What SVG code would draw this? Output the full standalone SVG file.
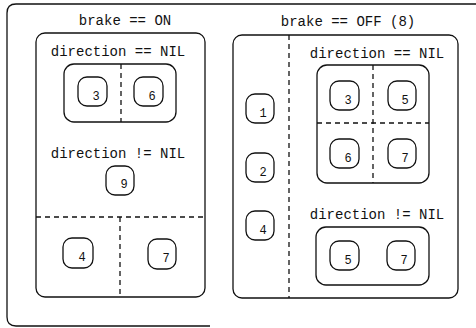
<svg xmlns="http://www.w3.org/2000/svg" width="476" height="328" viewBox="0 0 476 328">
<style>
.box{fill:none;stroke:#111;stroke-width:1.3}
.dash{fill:none;stroke:#111;stroke-width:1.3;stroke-dasharray:5,4}
.t{font-family:"Liberation Mono","DejaVu Sans Mono",monospace;font-size:14px;fill:#111}
.n{font-family:"Liberation Mono","DejaVu Sans Mono",monospace;font-size:12px;fill:#111;text-anchor:middle}
</style>
<rect width="476" height="328" fill="#fff"/>
<g id="frame">
<path class="box" d="M476 4 H16 Q7 4 7 13 V317 Q7 326 16 326 H210"/>
</g>
<g id="brake-on">
<rect class="box" x="36" y="33" width="169" height="264" rx="9"/>
<text class="t" x="125" y="25" text-anchor="middle">brake == ON</text>
<text class="t" x="118" y="56" text-anchor="middle">direction == NIL</text>
<rect class="box" x="64" y="64" width="112" height="58" rx="10"/>
<text class="t" x="118" y="158" text-anchor="middle">direction != NIL</text>
</g>
<g id="brake-off">
<rect class="box" x="233" y="35" width="225" height="263" rx="9"/>
<text class="t" x="348" y="26" text-anchor="middle">brake == OFF (8)</text>
<text class="t" x="377" y="58" text-anchor="middle">direction == NIL</text>
<rect class="box" x="317" y="65" width="112" height="118" rx="10"/>
<text class="t" x="377" y="219" text-anchor="middle">direction != NIL</text>
<rect class="box" x="316" y="227" width="113" height="58" rx="10"/>
</g>
<g id="connectors">
<line class="dash" x1="121" y1="64" x2="121" y2="122"/>
<line class="dash" x1="36" y1="217" x2="205" y2="217"/>
<line class="dash" x1="120" y1="217" x2="120" y2="297"/>
<line class="dash" x1="289" y1="35" x2="289" y2="298"/>
<line class="dash" x1="373" y1="65" x2="373" y2="183"/>
<line class="dash" x1="317" y1="123" x2="429" y2="123"/>
</g>
<g id="n-on-3"><rect class="box" x="78" y="77" width="29" height="29" rx="9"/><text class="n" x="96" y="100">3</text></g>
<g id="n-on-6"><rect class="box" x="134" y="77" width="29" height="29" rx="9"/><text class="n" x="152" y="100">6</text></g>
<g id="n-on-9"><rect class="box" x="106" y="166" width="28" height="29" rx="9"/><text class="n" x="124" y="188">9</text></g>
<g id="n-on-4"><rect class="box" x="63" y="238" width="30" height="30" rx="9"/><text class="n" x="82" y="261">4</text></g>
<g id="n-on-7"><rect class="box" x="148" y="239" width="28" height="30" rx="9"/><text class="n" x="166" y="262">7</text></g>
<g id="n-off-1"><rect class="box" x="246" y="94" width="28" height="29" rx="9"/><text class="n" x="263" y="117">1</text></g>
<g id="n-off-2"><rect class="box" x="246" y="153" width="28" height="29" rx="9"/><text class="n" x="263" y="176">2</text></g>
<g id="n-off-4"><rect class="box" x="246" y="211" width="28" height="29" rx="9"/><text class="n" x="263" y="234">4</text></g>
<g id="n-off-3"><rect class="box" x="330" y="81" width="29" height="29" rx="9"/><text class="n" x="348" y="104">3</text></g>
<g id="n-off-5"><rect class="box" x="388" y="81" width="28" height="29" rx="9"/><text class="n" x="405" y="104">5</text></g>
<g id="n-off-6"><rect class="box" x="330" y="139" width="29" height="29" rx="9"/><text class="n" x="348" y="162">6</text></g>
<g id="n-off-7"><rect class="box" x="388" y="139" width="28" height="29" rx="9"/><text class="n" x="405" y="162">7</text></g>
<g id="n-off-5b"><rect class="box" x="330" y="241" width="29" height="29" rx="9"/><text class="n" x="348" y="264">5</text></g>
<g id="n-off-7b"><rect class="box" x="387" y="241" width="28" height="29" rx="9"/><text class="n" x="404" y="264">7</text></g>
</svg>
